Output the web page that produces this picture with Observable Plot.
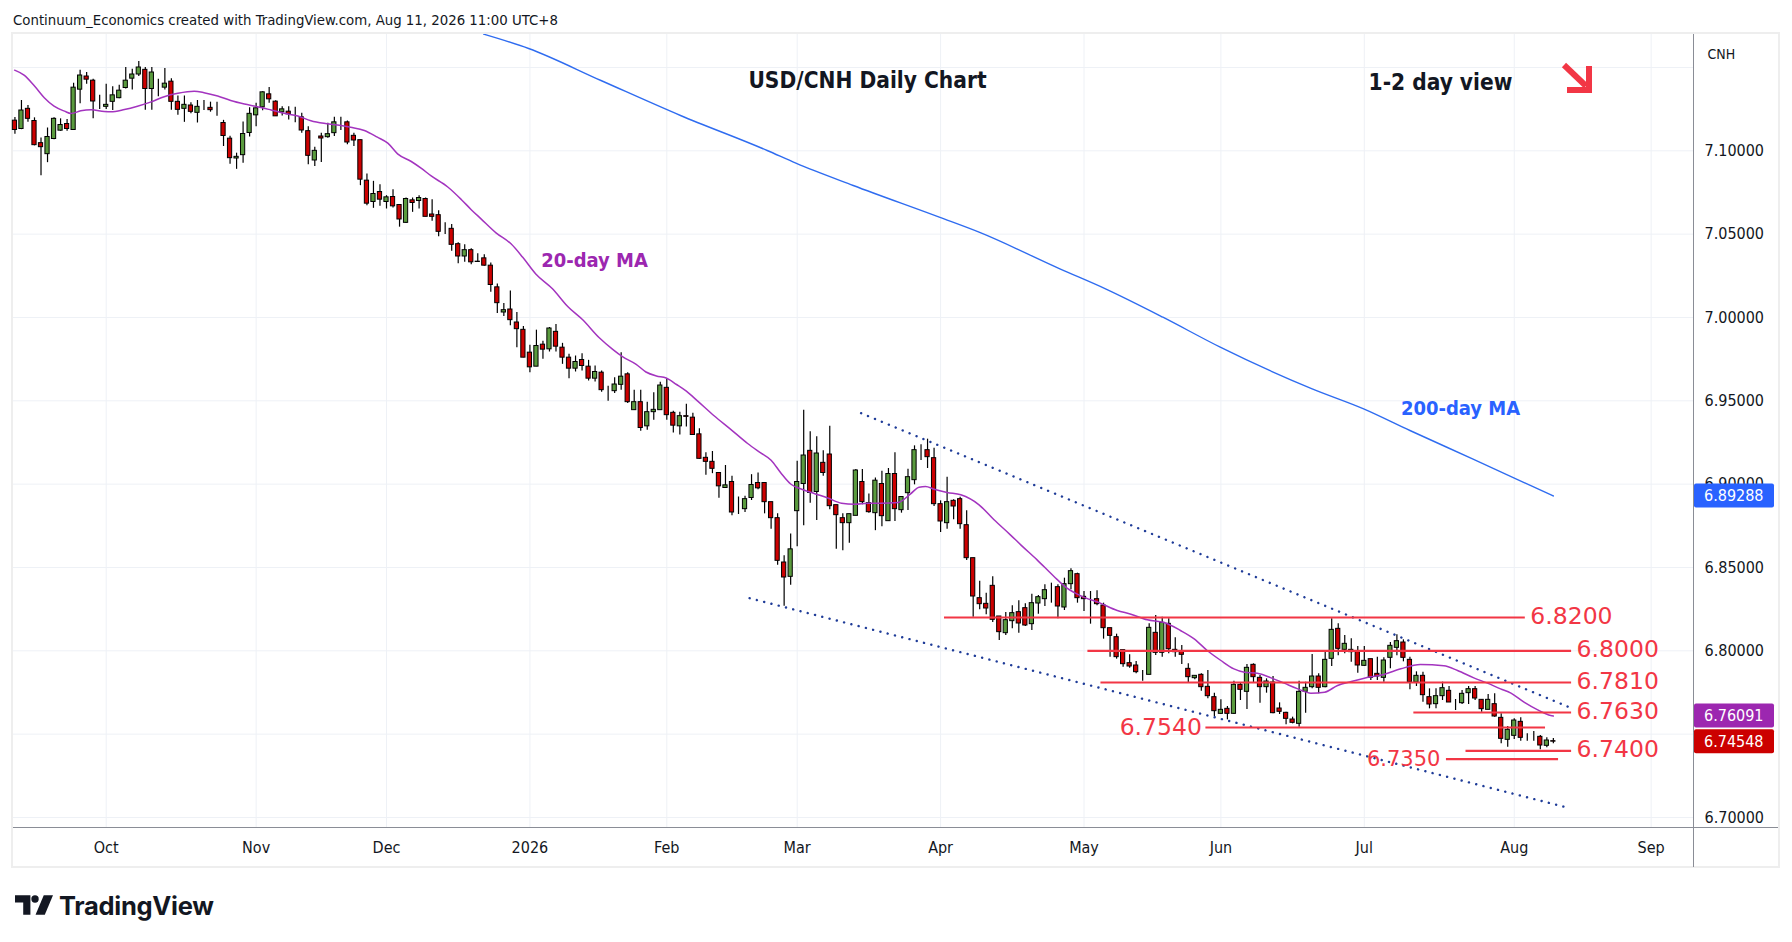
<!DOCTYPE html>
<html>
<head>
<meta charset="utf-8">
<script src="https://cdn.jsdelivr.net/npm/d3@7"></script>
<script src="https://cdn.jsdelivr.net/npm/@observablehq/plot@0.6"></script>
<style>
  html, body { margin: 0; padding: 0; background: #fff; }
  body { width: 1792px; height: 942px; overflow: hidden; position: relative;
         font-family: "DejaVu Sans Condensed", "DejaVu Sans", sans-serif; font-stretch: condensed; color: #131722; }
  #header { position: absolute; left: 13px; top: 0; height: 34px; line-height: 40px; font-size: 14.8px; white-space: nowrap; }
  #panel { position: absolute; left: 11px; top: 32px; width: 1769px; height: 836px; box-sizing: border-box; border: 2px solid #eeeeee; }
  #chart { position: absolute; left: 0; top: 34px; }
  #footer { position: absolute; left: 15px; top: 892px; height: 26px; display: flex; align-items: center; gap: 6px; }
  #footer span { font-family: Inter, "Liberation Sans", sans-serif; font-weight: 700; font-size: 25.5px; letter-spacing: -0.3px; color: #131722; font-stretch: normal; }
</style>
</head>
<body>
<div id="header">Continuum_Economics created with TradingView.com, Aug 11, 2026 11:00 UTC+8</div>
<div id="panel"></div>
<div id="chart"></div>
<div id="footer">
  <svg width="38" height="20" viewBox="0 0 37 19"><path d="M0 0h15v19h-7v-12h-8z" fill="#131722"/><circle cx="19.5" cy="3.6" r="3.6" fill="#131722"/><path d="M28 0h9l-8 19h-9z" fill="#131722"/></svg>
  <span>TradingView</span>
</div>
<script>
// ---------- calendar ----------
const firstDay = "2025-09-11";
const lastDay = "2026-09-30";
const holidays = ["2025-12-25", "2026-01-01"];

// ---------- daily candles (USD/CNH), one value per trading day from firstDay ----------
const opens = [7.1181,7.1131,7.1252,7.1179,7.1046,7.0980,7.1071,7.1121,7.1161,7.1125,
7.1367,7.1446,7.1421,7.1290,7.1264,7.1294,7.1316,7.1377,7.1433,7.1458,
7.1486,7.1371,7.1379,7.1379,7.1415,7.1294,7.1252,7.1272,7.1228,7.1258,
7.1258,7.1258,7.1167,7.1073,7.0954,7.0974,7.1107,7.1213,7.1261,7.1339,
7.1295,7.1231,7.1235,7.1219,7.1201,7.1118,7.0942,7.1086,7.1082,7.1106,
7.1175,7.1171,7.1090,7.1064,7.0821,7.0693,7.0753,7.0693,7.0723,7.0675,
7.0568,7.0703,7.0699,7.0711,7.0618,7.0614,7.0528,7.0532,7.0440,7.0366,
7.0404,7.0335,7.0355,7.0311,7.0181,7.0030,7.0048,6.9970,6.9926,6.9789,
6.9705,6.9837,6.9809,6.9914,6.9819,6.9759,6.9693,6.9745,6.9705,6.9633,
6.9669,6.9562,6.9558,6.9596,6.9659,6.9444,6.9492,6.9347,6.9432,6.9444,
6.9578,6.9428,6.9347,6.9408,6.9399,6.9299,6.9158,6.9134,6.9067,6.8977,
6.9013,6.8850,6.8850,6.8917,6.9007,6.9007,6.8892,6.8796,6.8530,6.8444,
6.8838,6.9001,6.9200,6.8953,6.9128,6.9178,6.8874,6.8796,6.8766,6.8810,
6.9013,6.8886,6.8826,6.9001,6.8778,6.9061,6.8844,6.8946,6.9024,6.9200,
6.9204,6.9156,6.8880,6.8766,6.8900,6.8910,6.8754,6.8556,6.8316,6.8282,
6.8390,6.8206,6.8106,6.8178,6.8232,6.8256,6.8160,6.8284,6.8310,6.8342,
6.8382,6.8260,6.8400,6.8460,6.8324,6.8306,6.8310,6.8272,6.8136,6.8082,
6.8004,6.7926,6.7912,6.7878,6.7856,6.8108,6.7988,6.8162,6.8006,6.7994,
6.7892,6.7836,6.7856,6.7784,6.7722,6.7622,6.7652,6.7622,6.7796,6.7754,
6.7916,6.7838,6.7782,6.7810,6.7654,6.7628,6.7588,6.7562,6.7754,6.7782,
6.7846,6.7782,6.7952,6.8132,6.8006,6.7992,6.7996,6.7910,6.7950,6.7862,
6.7838,6.7958,6.8018,6.8050,6.7946,6.7810,6.7850,6.7722,6.7680,6.7728,
6.7760,6.7692,6.7686,6.7746,6.7770,6.7706,6.7646,6.7680,6.7598,6.7466,
6.7490,6.7574,6.7478,6.7478,6.7484,6.7430,6.7458];
const highs = [7.1200,7.1302,7.1272,7.1198,7.1077,7.1137,7.1198,7.1192,7.1188,7.1405,
7.1484,7.1470,7.1429,7.1333,7.1399,7.1385,7.1393,7.1500,7.1490,7.1536,
7.1500,7.1500,7.1429,7.1494,7.1433,7.1329,7.1329,7.1288,7.1302,7.1302,
7.1292,7.1292,7.1183,7.1087,7.0986,7.1173,7.1258,7.1285,7.1355,7.1380,
7.1301,7.1265,7.1265,7.1261,7.1225,7.1145,7.1022,7.1106,7.1165,7.1201,
7.1201,7.1179,7.1106,7.1064,7.0861,7.0817,7.0797,7.0731,7.0767,7.0675,
7.0717,7.0717,7.0731,7.0717,7.0707,7.0641,7.0568,7.0558,7.0448,7.0436,
7.0412,7.0382,7.0376,7.0327,7.0201,7.0084,7.0159,7.0030,6.9946,6.9833,
6.9924,6.9857,6.9940,6.9958,6.9845,6.9779,6.9769,6.9783,6.9743,6.9709,
6.9679,6.9588,6.9639,6.9789,6.9669,6.9564,6.9564,6.9492,6.9548,6.9612,
6.9633,6.9438,6.9432,6.9480,6.9426,6.9333,6.9188,6.9196,6.9067,6.9112,
6.9047,6.8923,6.8927,6.9057,6.9067,6.9007,6.8892,6.8822,6.8570,6.8701,
6.9138,6.9444,6.9315,6.9285,6.9200,6.9347,6.8874,6.8822,6.8820,6.9088,
6.9088,6.8941,6.9037,6.9077,6.9094,6.9188,6.8923,6.9090,6.9230,6.9236,
6.9270,6.9216,6.8900,6.9042,6.8906,6.8922,6.8840,6.8556,6.8418,6.8346,
6.8444,6.8206,6.8230,6.8270,6.8300,6.8282,6.8340,6.8332,6.8396,6.8406,
6.8396,6.8436,6.8492,6.8466,6.8356,6.8356,6.8360,6.8286,6.8136,6.8100,
6.8004,6.7976,6.7936,6.7882,6.8162,6.8212,6.8202,6.8192,6.8078,6.8032,
6.7922,6.7850,6.7862,6.7882,6.7746,6.7706,6.7666,6.7818,6.7806,6.7918,
6.7922,6.7852,6.7832,6.7846,6.7688,6.7632,6.7602,6.7818,6.7812,6.7978,
6.7862,6.7992,6.8192,6.8162,6.8092,6.8072,6.8026,6.8026,6.7950,6.7962,
6.7958,6.8050,6.8096,6.8066,6.7962,6.7874,6.7872,6.7772,6.7772,6.7812,
6.7786,6.7708,6.7762,6.7786,6.7786,6.7706,6.7738,6.7742,6.7622,6.7546,
6.7592,6.7598,6.7502,6.7516,6.7492,6.7478,6.7474];
const lows = [7.1100,7.1127,7.1171,7.1030,7.0851,7.0929,7.1067,7.1117,7.1117,7.1123,
7.1282,7.1399,7.1192,7.1248,7.1248,7.1242,7.1312,7.1371,7.1365,7.1446,
7.1244,7.1244,7.1325,7.1365,7.1244,7.1214,7.1171,7.1222,7.1167,7.1242,
7.1232,7.1208,7.1026,7.0920,7.0889,7.0925,7.1083,7.1145,7.1241,7.1285,
7.1207,7.1209,7.1185,7.1169,7.1106,7.0916,7.0906,7.0930,7.1076,7.1086,
7.1122,7.1036,7.1026,7.0791,7.0671,7.0655,7.0667,7.0651,7.0657,7.0542,
7.0564,7.0631,7.0651,7.0604,7.0578,7.0484,7.0498,7.0398,7.0323,7.0331,
7.0317,7.0331,7.0307,7.0151,7.0024,7.0006,6.9950,6.9819,6.9759,6.9669,
6.9705,6.9749,6.9793,6.9793,6.9719,6.9633,6.9673,6.9679,6.9619,6.9613,
6.9552,6.9498,6.9544,6.9564,6.9484,6.9444,6.9317,6.9323,6.9384,6.9444,
6.9384,6.9307,6.9295,6.9343,6.9295,6.9150,6.9053,6.9063,6.8915,6.8977,
6.8810,6.8818,6.8830,6.8902,6.8967,6.8822,6.8729,6.8514,6.8267,6.8393,
6.8625,6.8750,6.8886,6.8782,6.9047,6.8846,6.8609,6.8601,6.8645,6.8810,
6.8876,6.8826,6.8721,6.8745,6.8778,6.8776,6.8826,6.8842,6.8996,6.9142,
6.9094,6.8866,6.8710,6.8730,6.8786,6.8730,6.8542,6.8202,6.8246,6.8216,
6.8170,6.8062,6.8092,6.8132,6.8106,6.8146,6.8122,6.8220,6.8266,6.8286,
6.8192,6.8242,6.8366,6.8286,6.8236,6.8160,6.8270,6.8070,6.7962,6.7950,
6.7902,6.7896,6.7862,6.7818,6.7856,6.7972,6.7962,6.7982,6.7962,6.7918,
6.7806,6.7826,6.7758,6.7712,6.7606,6.7618,6.7586,6.7618,6.7702,6.7648,
6.7806,6.7686,6.7746,6.7622,6.7618,6.7556,6.7562,6.7542,6.7626,6.7772,
6.7742,6.7778,6.7906,6.7970,6.7982,6.7932,6.7866,6.7906,6.7822,6.7822,
6.7812,6.7892,6.7970,6.7934,6.7766,6.7786,6.7692,6.7652,6.7652,6.7702,
6.7690,6.7642,6.7678,6.7678,6.7702,6.7632,6.7646,6.7602,6.7442,6.7422,
6.7468,6.7458,6.7458,6.7458,6.7406,6.7418,6.7442];
const closes = [7.1125,7.1242,7.1192,7.1034,7.1022,7.1083,7.1192,7.1155,7.1131,7.1379,
7.1452,7.1427,7.1296,7.1290,7.1276,7.1333,7.1361,7.1421,7.1458,7.1500,
7.1371,7.1470,7.1379,7.1403,7.1294,7.1246,7.1276,7.1234,7.1264,7.1258,
7.1244,7.1258,7.1089,7.0956,7.0964,7.1101,7.1222,7.1255,7.1351,7.1309,
7.1207,7.1249,7.1219,7.1219,7.1122,7.0970,7.1000,7.1074,7.1100,7.1171,
7.1175,7.1050,7.1062,7.0827,7.0683,7.0741,7.0707,7.0721,7.0667,7.0588,
7.0711,7.0687,7.0717,7.0604,7.0604,7.0514,7.0528,7.0436,7.0366,7.0404,
7.0331,7.0333,7.0311,7.0195,7.0086,7.0044,6.9984,6.9930,6.9759,6.9701,
6.9829,6.9807,6.9934,6.9825,6.9759,6.9693,6.9733,6.9709,6.9633,6.9673,
6.9564,6.9562,6.9598,6.9645,6.9492,6.9492,6.9337,6.9432,6.9446,6.9592,
6.9414,6.9351,6.9408,6.9404,6.9295,6.9152,6.9134,6.9092,6.8987,6.8993,
6.8830,6.8850,6.8910,6.8995,6.8975,6.8892,6.8796,6.8540,6.8440,6.8609,
6.9013,6.9172,6.8947,6.9184,6.9067,6.8868,6.8814,6.8766,6.8820,6.9082,
6.8892,6.8832,6.9021,6.8808,6.9061,6.8850,6.8923,6.9042,6.9204,6.9200,
6.9162,6.8880,6.8776,6.8892,6.8866,6.8760,6.8556,6.8326,6.8280,6.8254,
6.8186,6.8112,6.8184,6.8226,6.8164,6.8152,6.8286,6.8322,6.8364,6.8342,
6.8266,6.8400,6.8478,6.8316,6.8310,6.8306,6.8280,6.8136,6.8090,6.7962,
6.7920,6.7906,6.7872,6.7878,6.8138,6.7988,6.8168,6.8010,6.7992,6.7976,
6.7842,6.7850,6.7782,6.7728,6.7638,6.7646,6.7622,6.7796,6.7766,6.7898,
6.7842,6.7782,6.7816,6.7626,6.7634,6.7592,6.7568,6.7754,6.7778,6.7846,
6.7778,6.7946,6.8126,6.8012,6.8042,6.8006,6.7912,6.7940,6.7838,6.7846,
6.7942,6.8030,6.8058,6.7958,6.7812,6.7850,6.7734,6.7678,6.7728,6.7776,
6.7690,6.7692,6.7742,6.7770,6.7714,6.7650,6.7706,6.7606,6.7472,6.7526,
6.7582,6.7478,6.7478,6.7478,6.7432,6.7462,6.7455];

// ---------- moving averages (x = trading-day number from firstDay) ----------
const ma20Day = [-0.05,1.4,3,4.5,6,7.6,8.6,10.1,11.7,13.7,14.7,16.8,18.8,20.9,22.9,25,27.5,29,31.1,33.1,35.2,37.2,39.3,41.3,43.4,45.4,47.4,49.5,51.5,53.6,55.6,57.2,58.7,60.8,62.3,63.8,66.4,68.5,70,71.5,73.8,76.1,77.9,79.9,82.5,84.8,87.1,89.6,91.7,93.2,95.3,96.8,98.4,99.9,101.5,103,104.7,107.3,109.8,112.4,114.4,116,117.5,119,120.6,122.7,124.7,126.8,128.8,130.9,132.9,135.5,137.4,138.7,139.7,141,143,145.1,147.9,150.2,152.7,154.3,156.8,159.4,161.4,163.5,166.5,169.1,171.2,173.7,176.3,178.8,180.9,182.9,185,187,188.6,190.6,192.7,194.7,196.8,198.8,200.9,202.9,205,207,210,212.6,215.6,219.2,221.3,223.8,225.9,227.9,229.5,231.5,233.6,235.6,236];
const ma20Val = [7.1484,7.1454,7.1389,7.1319,7.1268,7.1238,7.1224,7.1240,7.1246,7.1236,7.1234,7.1248,7.1268,7.1294,7.1325,7.1345,7.1357,7.1349,7.1329,7.1302,7.1281,7.1265,7.1245,7.1225,7.1209,7.1181,7.1165,7.1155,7.1141,7.1122,7.1082,7.1046,7.0982,7.0936,7.0896,7.0851,7.0783,7.0707,7.0647,7.0592,7.0508,7.0442,7.0361,7.0261,7.0171,7.0066,6.9986,6.9880,6.9809,6.9765,6.9719,6.9673,6.9649,6.9637,6.9598,6.9558,6.9500,6.9409,6.9329,6.9244,6.9188,6.9144,6.9067,6.9001,6.8971,6.8943,6.8917,6.8886,6.8880,6.8886,6.8886,6.8890,6.8942,6.8982,6.8986,6.8970,6.8950,6.8936,6.8876,6.8786,6.8696,6.8636,6.8546,6.8446,6.8376,6.8330,6.8286,6.8242,6.8220,6.8186,6.8170,6.8122,6.8072,6.8002,6.7942,6.7892,6.7872,6.7866,6.7838,6.7806,6.7772,6.7746,6.7752,6.7792,6.7816,6.7836,6.7858,6.7892,6.7918,6.7910,6.7882,6.7838,6.7806,6.7772,6.7746,6.7692,6.7646,6.7612,6.7609];
const ma200Day = [71.9,78.8,89.9,102.1,115.4,119.8,128.6,141.8,147.9,160.3,167.3,176.1,184.9,199,206.9,214,223.6,236];
const ma200Val = [7.1700,7.1614,7.1422,7.1212,7.1002,7.0926,7.0792,7.0602,7.0512,7.0292,7.0172,7.0002,6.9822,6.9572,6.9452,6.9322,6.9152,6.8929];

// ---------- drawn levels and channel ----------
const levelPrices = [6.8200, 6.8000, 6.7810, 6.7630, 6.7540, 6.7400, 6.7350];
const levelLabels = ["6.8200", "6.8000", "6.7810", "6.7630", "6.7540", "6.7400", "6.7350"];
const levelFrom = [142.6, 164.6, 166.6, 214.6, 182.7, 222.6, 219.6];
const levelTo = [231.7, 238.8, 238.8, 238.8, 234.8, 238.8, 236.8];
const levelLabelAtStart = [false, false, false, false, true, false, true];
const channelUpper = [[129.8, 6.9426], [238.3, 6.7664]];
const channelLower = [[112.7, 6.8316], [238.0, 6.7061]];

// ---------- axes ----------
const priceTicks = [7.10, 7.05, 7.00, 6.95, 6.90, 6.85, 6.80, 6.70];
const gridPrices = [7.15, 7.10, 7.05, 7.00, 6.95, 6.90, 6.85, 6.80, 6.75, 6.70];
const monthDates = ["2025-10-01","2025-11-03","2025-12-01","2026-01-02","2026-02-02","2026-03-02","2026-04-01","2026-05-01","2026-06-01","2026-07-01","2026-08-03","2026-09-01"];
const monthLabels = ["Oct","Nov","Dec","2026","Feb","Mar","Apr","May","Jun","Jul","Aug","Sep"];
const priceTags = [6.89288, 6.76091, 6.74548];
const priceTagNames = ["200-day MA", "20-day MA", "USD/CNH"];

// ---------- build ----------
const days = [];
{
  const skip = new Set(holidays);
  const end = new Date(lastDay + "T00:00:00Z");
  for (let d = new Date(firstDay + "T00:00:00Z"); d <= end; d.setUTCDate(d.getUTCDate() + 1)) {
    const w = d.getUTCDay(), s = d.toISOString().slice(0, 10);
    if (w !== 0 && w !== 6 && !skip.has(s)) days.push(s);
  }
}
const candles = closes.map((c, i) => ({ i, date: days[i], o: opens[i], h: highs[i], l: lows[i], c }));
const months = monthDates.map((d, k) => ({ i: days.indexOf(d), label: monthLabels[k], bold: monthLabels[k] === "2026" }));
const ma20 = ma20Day.map((x, k) => ({ x, y: ma20Val[k] }));
const ma200 = ma200Day.map((x, k) => ({ x, y: ma200Val[k] }));
const levels = levelPrices.map((p, k) => ({ p, label: levelLabels[k], a: levelFrom[k], b: levelTo[k], start: levelLabelAtStart[k] }));
const chan = [channelUpper, channelLower].map(seg => seg.map(([x, y]) => ({ x, y })));
const tagColors = ["#2962ff", "#9c27b0", "#cc0000"];
const tags = priceTags.map((v, k) => ({ v, name: priceTagNames[k], color: tagColors[k] }));

const FONT = "DejaVu Sans Condensed, DejaVu Sans, sans-serif";
const GREEN = "#5a9b3e", RED = "#cc0000", LEVEL = "#f23645";

function chrome(index, scales, values, dim) {
  const g = d3.create("svg:g");
  const xr = dim.width - dim.marginRight;
  const yb = dim.height - dim.marginBottom;
  g.append("line").attr("x1", dim.marginLeft).attr("x2", dim.width - 14).attr("y1", yb + 0.5).attr("y2", yb + 0.5).attr("stroke", "#8a8d96").attr("stroke-width", 1);
  g.append("line").attr("x1", xr + 0.5).attr("x2", xr + 0.5).attr("y1", 0).attr("y2", dim.height).attr("stroke", "#8a8d96").attr("stroke-width", 1);
  for (const t of tags) {
    const y = scales.y(t.v);
    g.append("rect").attr("x", xr + 1).attr("y", y - 12).attr("width", 80).attr("height", 24).attr("rx", 2).attr("fill", t.color);
    g.append("text").attr("x", xr + 11).attr("y", y).attr("dy", "0.36em").attr("fill", "#fff")
      .attr("text-anchor", "start").attr("font-size", 16).attr("font-family", FONT)
      .style("font-stretch", "condensed").text(t.v.toFixed(5));
  }
  // "1-2 day view" direction arrow (south-east)
  const ax = xr - 129, ay = 31;
  g.append("path").attr("d", `M${ax} ${ay} L${ax + 22} ${ay + 21}`).attr("stroke", LEVEL).attr("stroke-width", 6).attr("fill", "none");
  g.append("path").attr("d", `M${ax + 25} ${ay + 1} V${ay + 25} H${ax + 3}`).attr("stroke", LEVEL).attr("stroke-width", 6).attr("fill", "none").attr("stroke-linejoin", "miter");
  return g.node();
}

const chart = Plot.plot({
  width: 1792,
  height: 833,
  marginTop: 0,
  marginBottom: 40,
  marginLeft: 13,
  marginRight: 99,
  x: { domain: [-0.22, 257.5], axis: null },
  y: { domain: [6.694, 7.1698], axis: null },
  style: { fontFamily: FONT, background: "transparent", color: "#131722", overflow: "visible" },
  marks: [
    Plot.ruleY(gridPrices, { stroke: "#eef1f6", strokeWidth: 1 }),
    Plot.ruleX(months, { x: "i", stroke: "#eef1f6", strokeWidth: 1 }),
    Plot.ruleX(candles, { x: "i", y1: "l", y2: "h", stroke: "#000", strokeWidth: 1.2 }),
    Plot.rect(candles, {
      x1: d => d.i - 0.5, x2: d => d.i + 0.5, y1: "o", y2: "c",
      insetLeft: 1.15, insetRight: 1.15,
      fill: d => d.c >= d.o ? GREEN : RED, stroke: "#000", strokeWidth: 1
    }),
    Plot.line(ma200, { x: "x", y: "y", stroke: "#2f6cf0", strokeWidth: 1.4, curve: "monotone-x", clip: true }),
    Plot.line(ma20, { x: "x", y: "y", stroke: "#a334bf", strokeWidth: 1.5, curve: "monotone-x", clip: true }),
    ...chan.map(seg => Plot.line(seg, { x: "x", y: "y", stroke: "#1f3c98", strokeWidth: 2.4, strokeDasharray: "0.1 7.4", strokeLinecap: "round" })),
    Plot.ruleY(levels, { y: "p", x1: "a", x2: "b", stroke: LEVEL, strokeWidth: 2.2 }),
    Plot.text(levels.filter(d => !d.start), { x: "b", y: "p", text: "label", textAnchor: "start", dx: 5, dy: -1, fill: LEVEL, fontSize: 23.5, fontFamily: "DejaVu Sans, sans-serif" }),
    Plot.text(levels.filter(d => d.start && d.label === "6.7540"), { x: "a", y: "p", text: "label", textAnchor: "end", dx: -4, fill: LEVEL, fontSize: 23.5, fontFamily: "DejaVu Sans, sans-serif" }),
    Plot.text(levels.filter(d => d.start && d.label === "6.7350"), { x: "a", y: "p", text: "label", textAnchor: "end", dx: -6, fill: LEVEL, fontSize: 21, fontFamily: "DejaVu Sans, sans-serif" }),
    Plot.text(months, { x: "i", text: "label", frameAnchor: "bottom", lineAnchor: "middle", dy: 20.5, fontSize: 16, fill: "#131722", fontWeight: d => d.bold ? "bold" : "normal" }),
    Plot.text(priceTicks, { y: d => d, text: d => d.toFixed(5), frameAnchor: "right", lineAnchor: "middle", dx: 11, textAnchor: "start", fontSize: 16, fill: "#131722" }),
    Plot.text(["USD/CNH Daily Chart"], { frameAnchor: "top-left", lineAnchor: "middle", dx: 854, dy: 46, textAnchor: "middle", fontSize: 22.5, fontWeight: "bold", fill: "#131722" }),
    Plot.text(["1-2 day view"], { frameAnchor: "top-left", lineAnchor: "middle", dx: 1427, dy: 48, textAnchor: "middle", fontSize: 22.5, fontWeight: "bold", fill: "#131722" }),
    Plot.text(["20-day MA"], { frameAnchor: "top-left", lineAnchor: "middle", dx: 581, dy: 226, textAnchor: "middle", fontSize: 20, fontWeight: "bold", fill: "#9c27b0" }),
    Plot.text(["200-day MA"], { frameAnchor: "top-left", lineAnchor: "middle", dx: 1447, dy: 374, textAnchor: "middle", fontSize: 20, fontWeight: "bold", fill: "#2962ff" }),
    Plot.text(["CNH"], { frameAnchor: "top-right", lineAnchor: "middle", dx: 14, dy: 20, textAnchor: "start", fontSize: 14, fill: "#131722" }),
    chrome
  ]
});
chart.style.fontStretch = "condensed";
d3.select(chart).selectAll("text")
  .filter(function () { return levelLabels.includes(this.textContent); })
  .style("font-stretch", "normal");
document.getElementById("chart").appendChild(chart);
</script>
</body>
</html>
